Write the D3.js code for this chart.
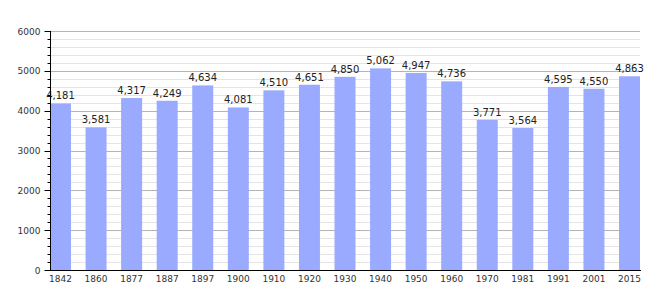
<!DOCTYPE html>
<html>
<head>
<meta charset="utf-8">
<script src="https://cdn.jsdelivr.net/npm/d3@7"></script>
<style>
  body { margin: 0; background: #fff; }
  text { font-family: "DejaVu Sans", Verdana, sans-serif; }
</style>
</head>
<body>
<svg id="chart" width="670" height="300"></svg>
<script>
const years = ["1842", "1860", "1877", "1887", "1897", "1900", "1910", "1920", "1930",
    "1940", "1950", "1960", "1970", "1981", "1991", "2001", "2015"];
const population = [4181, 3581, 4317, 4249, 4634, 4081, 4510, 4651, 4850,
    5062, 4947, 4736, 3771, 3564, 4595, 4550, 4863];
const yTicks = [0, 1000, 2000, 3000, 4000, 5000, 6000];

const svg = d3.select("#chart");
const plotLeft = 50, plotRight = 640, plotTop = 31, plotBottom = 270;

const x = d3.scaleBand().domain(years).range([plotLeft, plotRight]).paddingInner(0.41).paddingOuter(0);
const y = d3.scaleLinear().domain([0, 6000]).range([plotBottom, plotTop]);
const py = d => Math.round(y(d)) + 0.5;

// minor grid every 200
const minor = d3.range(200, 6000, 200).filter(v => v % 1000 !== 0);
svg.append("g").selectAll("line")
    .data(minor)
    .enter()
    .append("line")
    .attr("x1", plotLeft).attr("x2", plotRight)
    .attr("y1", py).attr("y2", py)
    .attr("stroke", "#e4e4e4");

svg.append("g").selectAll("line")
    .data(yTicks.filter(d => d > 0))
    .enter()
    .append("line")
    .attr("x1", plotLeft).attr("x2", plotRight)
    .attr("y1", py).attr("y2", py)
    .attr("stroke", "#b4b4b4");

// bars
svg.append("g").selectAll("rect")
    .data(population)
    .enter()
    .append("rect")
    .attr("x", (d, i) => x(years[i]))
    .attr("y", d => y(d))
    .attr("width", x.bandwidth())
    .attr("height", d => plotBottom - y(d))
    .attr("fill", "#99aaff");

// value labels
const fmt = d3.format(",");
svg.append("g").selectAll("text")
    .data(population)
    .enter()
    .append("text")
    .attr("x", (d, i) => x(years[i]) + x.bandwidth() / 2)
    .attr("y", d => y(d) - 4)
    .attr("text-anchor", "middle")
    .attr("font-size", 10)
    .attr("fill", "#222")
    .text(d => fmt(d));

// y axis
const yAxis = svg.append("g").attr("transform", `translate(${plotLeft + 0.5},0)`);
yAxis.append("line")
    .attr("x1", 0).attr("x2", 0)
    .attr("y1", plotTop).attr("y2", plotBottom)
    .attr("stroke", "#000");
yAxis.selectAll(".minor")
    .data(minor)
    .enter()
    .append("line")
    .attr("x1", -3).attr("x2", 0)
    .attr("y1", py).attr("y2", py)
    .attr("stroke", "#000");
yAxis.selectAll(".major")
    .data(yTicks)
    .enter()
    .append("line")
    .attr("x1", -6).attr("x2", 0)
    .attr("y1", py).attr("y2", py)
    .attr("stroke", "#000");
yAxis.selectAll("text")
    .data(yTicks)
    .enter()
    .append("text")
    .attr("x", -10)
    .attr("y", d => y(d) + 3.5)
    .attr("text-anchor", "end")
    .attr("font-size", 9)
    .attr("fill", "#333")
    .text(d => d);

// x axis
svg.append("line")
    .attr("x1", plotLeft).attr("x2", plotRight + 1)
    .attr("y1", plotBottom + 0.5).attr("y2", plotBottom + 0.5)
    .attr("stroke", "#000");
svg.append("g").selectAll("text")
    .data(years)
    .enter()
    .append("text")
    .attr("x", d => x(d) + x.bandwidth() / 2)
    .attr("y", plotBottom + 12)
    .attr("text-anchor", "middle")
    .attr("font-size", 9)
    .attr("fill", "#333")
    .text(d => d);
</script>
</body>
</html>
